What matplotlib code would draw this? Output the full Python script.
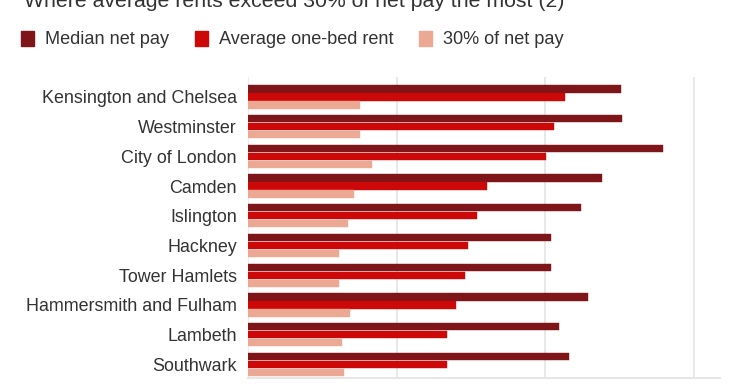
import matplotlib
matplotlib.use("Agg")
import matplotlib.pyplot as plt
import numpy as np

boroughs = ["Kensington and Chelsea", "Westminster", "City of London", "Camden",
            "Islington", "Hackney", "Tower Hamlets", "Hammersmith and Fulham",
            "Lambeth", "Southwark"]
median_net_pay = [2512, 2516, 2797, 2386, 2240, 2043, 2040, 2287, 2097, 2164]
avg_one_bed_rent = [2133, 2059, 2005, 1612, 1542, 1481, 1464, 1403, 1338, 1342]
thirty_pct_net_pay = [754, 754, 837, 714, 671, 613, 613, 687, 631, 649]
series_names = ["Median net pay", "Average one-bed rent", "30% of net pay"]
colors = ["#7e1518", "#cc0808", "#eba893"]

plt.rcParams['font.family'] = ['Liberation Sans', 'DejaVu Sans']

fig = plt.figure(figsize=(7.4, 3.89), dpi=100)
ax = fig.add_axes([248/740, (389-378.3)/389, (720-248)/740, (378.3-76.7)/389])

y = np.arange(len(boroughs))
h = 0.245
step = 0.27
for i, (vals, c, name) in enumerate(zip([median_net_pay, avg_one_bed_rent, thirty_pct_net_pay], colors, series_names)):
    ax.barh(y + (i - 1) * step, vals, height=h, color=c, label=name, zorder=3,
            edgecolor=c, linewidth=0.3)

ax.set_xlim(0, 3178)
ax.set_ylim(9.47, -0.68)
ax.set_xticks([0, 1000, 2000, 3000])
ax.xaxis.grid(True, color="#e8e8e8", linewidth=1.4, zorder=0)
ax.tick_params(axis='x', length=0, labelbottom=False)
ax.set_yticks(y)
ax.set_yticklabels(boroughs, fontsize=12.9, color="#333333")
ax.tick_params(axis='y', length=0, pad=8)
for s in ["top", "right"]:
    ax.spines[s].set_visible(False)
ax.spines["left"].set_color("#ececec")
ax.spines["bottom"].set_color("#e6e6e6")
ax.spines["bottom"].set_linewidth(1.4)

fig.text(24/740, (389-7)/389, "Where average rents exceed 30% of net pay the most (2)",
         fontsize=15.3, color="#333333", va="baseline", ha="left")

handles = [plt.Rectangle((0, 0), 1, 1, color=c) for c in colors]
fig.legend(handles, series_names, loc="center left", bbox_to_anchor=(5/740, (389-39.5)/389),
           ncol=3, frameon=False, fontsize=13.1, handlelength=0.72, handleheight=0.9,
           handletextpad=0.6, columnspacing=1.4, labelcolor="#333333")

fig.savefig("out.png", dpi=100)
